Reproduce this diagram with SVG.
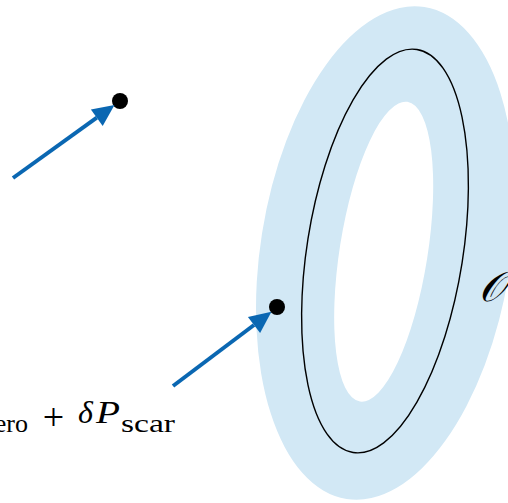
<svg xmlns="http://www.w3.org/2000/svg" width="508" height="503" viewBox="0 0 508 503">
<defs>
<style>
.arrow{stroke:#0a67b2;stroke-width:4;fill:none}
.dot{fill:#000}
.m{font-family:"Liberation Serif","DejaVu Serif",serif;fill:#000}
.it{font-style:italic}
</style>
<marker id="ah" markerUnits="userSpaceOnUse" markerWidth="24" markerHeight="24" refX="0" refY="0" viewBox="-1 -10 22 20" orient="auto" overflow="visible">
<path d="M0,-9.3 L20,0 L0,9.3 Z" fill="#0a67b2"/>
</marker>
</defs>
<rect width="508" height="503" fill="#fff"/>
<g id="ring">
<path transform="translate(385.5,253) rotate(9)" d="M0,-249 A125,249 0 1 1 0,249 A125,249 0 1 1 0,-249 Z M-2,-152.7 A44,151.7 0 1 1 -2,150.7 A44,151.7 0 1 1 -2,-152.7 Z" fill="#d2e8f5" fill-rule="evenodd"/>
<ellipse transform="translate(385,251) rotate(9)" cx="0" cy="0" rx="78" ry="204" fill="none" stroke="#000" stroke-width="1.4"/>
<text class="m" x="479" y="301" font-size="42" font-family="'DejaVu Serif',serif" font-style="italic">𝒪</text>
</g>
<g id="point-far">
<circle class="dot" cx="120" cy="101" r="8"/>
</g>
<g id="point-scar">
<circle class="dot" cx="277" cy="307" r="8"/>
</g>
<g id="connectors">
<line class="arrow" x1="13" y1="178" x2="96.8" y2="117.7" marker-end="url(#ah)"/>
<line class="arrow" x1="173" y1="386" x2="254" y2="325" marker-end="url(#ah)"/>
</g>
<g id="label">
<text class="m" font-size="26" x="28" y="432" text-anchor="end">zero</text>
<text class="m" font-size="38" x="53.5" y="430" text-anchor="middle">+</text>
<text class="m it" font-size="32" x="78" y="423">δ</text>
<text class="m it" font-size="32" x="96" y="423" textLength="24" lengthAdjust="spacingAndGlyphs">P</text>
<text class="m" font-size="26" x="121" y="432" textLength="54" lengthAdjust="spacingAndGlyphs">scar</text>
</g>
</svg>
